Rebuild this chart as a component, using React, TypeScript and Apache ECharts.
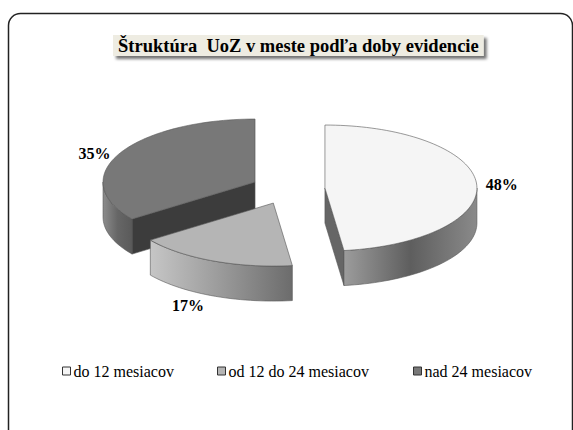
import React, { useEffect, useRef } from "react";
import * as echarts from "echarts";

const categories = ["do 12 mesiacov", "od 12 do 24 mesiacov", "nad 24 mesiacov"];
const values = [48, 17, 35];
const labels = ["48%", "17%", "35%"];
const titleText = "Štruktúra  UoZ v meste podľa doby evidencie";

const topColors = ["#f5f5f5", "#b5b5b5", "#787878"];
const sideStops = [
  ["#9c9c9c", "#5e5e5e", "#8a8a8a"],
  ["#c6c6c6", "#9a9a9a", "#6c6c6c"],
  ["#8c8c8c", "#666666", "#5a5a5a"],
];
const faceColors = ["#666666", "#6a6a6a", "#3c3c3c"];
const legendLefts = [62, 217, 413];

const SERIF = "'Liberation Serif', 'Times New Roman', serif";

const CX = 288;
const CY = 189;
const RX = 152;
const RY = 63;
const DEPTH = 35;
const EXPLODE = 37;

const total = values.reduce((a, b) => a + b, 0);
const rad = (d: number) => (d * Math.PI) / 180;

function sliceAngles(i: number) {
  let s = 0;
  for (let k = 0; k < i; k++) s += values[k];
  const a0 = (s / total) * 360;
  const a1 = ((s + values[i]) / total) * 360;
  return [a0, a1];
}

function apexOf(i: number) {
  const [a0, a1] = sliceAngles(i);
  const m = rad((a0 + a1) / 2);
  return [CX + EXPLODE * Math.sin(m), CY - EXPLODE * (RY / RX) * Math.cos(m)];
}

function pt(ox: number, oy: number, a: number, dz = 0) {
  const r = rad(a);
  return [ox + RX * Math.sin(r), oy - RY * Math.cos(r) + dz];
}

function arc(ox: number, oy: number, a0: number, a1: number, dz = 0) {
  const pts: number[][] = [];
  const n = Math.max(4, Math.ceil(Math.abs(a1 - a0) / 2));
  for (let k = 0; k <= n; k++) pts.push(pt(ox, oy, a0 + ((a1 - a0) * k) / n, dz));
  return pts;
}

const edge = { stroke: "#555", lineWidth: 0.6 };

function makeRender(i: number) {
  return (params: any, api: any) => {
    const [a0, a1] = sliceAngles(i);
    const [ox, oy] = apexOf(i);
    const children: any[] = [];
    if (a1 > 0 && a1 < 180) {
      const p = pt(ox, oy, a1);
      children.push({
        type: "polygon",
        shape: { points: [[ox, oy], p, [p[0], p[1] + DEPTH], [ox, oy + DEPTH]] },
        style: { fill: faceColors[i], ...edge },
      });
    }
    if (a0 > 180 && a0 < 360) {
      const p = pt(ox, oy, a0);
      children.push({
        type: "polygon",
        shape: { points: [[ox, oy], p, [p[0], p[1] + DEPTH], [ox, oy + DEPTH]] },
        style: { fill: faceColors[i], ...edge },
      });
    }
    const w0 = Math.max(a0, 90);
    const w1 = Math.min(a1, 270);
    if (w1 > w0) {
      const top = arc(ox, oy, w0, w1);
      const bot = arc(ox, oy, w1, w0, DEPTH);
      const st = sideStops[i];
      children.push({
        type: "polygon",
        shape: { points: top.concat(bot) },
        style: {
          fill: {
            type: "linear", x: 0, y: 0, x2: 1, y2: 0,
            colorStops: [
              { offset: 0, color: st[0] },
              { offset: 0.5, color: st[1] },
              { offset: 1, color: st[2] },
            ],
          },
          ...edge,
        },
      });
    }
    children.push({
      type: "polygon",
      shape: { points: [[ox, oy]].concat(arc(ox, oy, a0, a1)) },
      style: { fill: topColors[i], ...edge },
    });
    const mid = (a0 + a1) / 2;
    const mr = rad(mid);
    const lower = -Math.cos(mr) > 0.5;
    const ep = pt(ox, oy, mid, lower ? DEPTH + 10 : 0);
    const lx = ep[0] + 25 * Math.sign(Math.sin(mr));
    children.push({
      type: "text",
      style: {
        text: labels[i],
        x: lx,
        y: ep[1],
        align: "center",
        verticalAlign: "middle",
        fontFamily: SERIF,
        fontWeight: "bold",
        fontSize: 16,
        fill: "#000",
      },
    });
    return { type: "group", children };
  };
}

function depthRank(i: number) {
  const [a0, a1] = sliceAngles(i);
  const key = -Math.cos(rad((a0 + a1) / 2));
  let r = 0;
  for (let k = 0; k < values.length; k++) {
    const [b0, b1] = sliceAngles(k);
    if (-Math.cos(rad((b0 + b1) / 2)) < key) r++;
  }
  return r;
}

export default function App() {
  const ref = useRef<HTMLDivElement>(null);
  useEffect(() => {
    if (!ref.current) return;
    const chart = echarts.init(ref.current, undefined, { renderer: "svg" });
    chart.setOption({
      animation: false,
      backgroundColor: "#ffffff",
      title: {
        text: titleText,
        left: 113,
        top: 35,
        padding: [1, 5, 1, 5],
        backgroundColor: "#eeece2",
        shadowColor: "rgba(0,0,0,0.55)",
        shadowBlur: 3,
        shadowOffsetX: 3,
        shadowOffsetY: 3,
        textStyle: {
          fontFamily: SERIF,
          fontWeight: "bold",
          fontSize: 18.5,
          color: "#000",
        },
      },
      legend: categories.map((c, i) => ({
        left: legendLefts[i],
        top: 363,
        padding: 0,
        itemWidth: 8,
        itemHeight: 8,
        icon: "rect",
        data: [c],
        itemStyle: { borderColor: "#333", borderWidth: 1 },
        textStyle: { fontFamily: SERIF, fontSize: 16, color: "#000", padding: [0, 0, 0, -2] },
      })),
      graphic: [
        {
          type: "rect",
          shape: { x: 8.5, y: 13.5, width: 564, height: 440, r: 12 },
          style: { fill: "none", stroke: "#222", lineWidth: 1.5 },
          silent: true,
        },
      ],
      series: categories.map((name, i) => ({
        type: "custom",
        name,
        coordinateSystem: "none",
        z: 2 + depthRank(i),
        itemStyle: { color: topColors[i] },
        data: [{ name, value: values[i] }],
        renderItem: makeRender(i),
      })),
    });
    return () => chart.dispose();
  }, []);
  return <div ref={ref} style={{ position: "fixed", left: 0, top: 0, width: 573, height: 430 }} />;
}
